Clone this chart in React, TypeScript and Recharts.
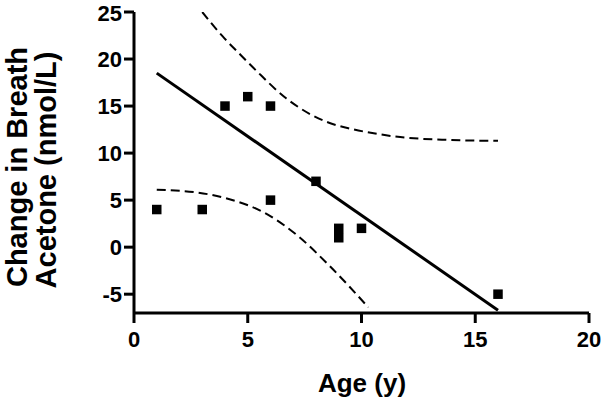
import { ComposedChart, Line, Scatter, XAxis, YAxis } from 'recharts'

// measured points (age in years, change in nmol/L)
const ages = [1, 3, 4, 5, 6, 6, 8, 9, 9, 10, 16]
const changes = [4, 4, 15, 16, 15, 5, 7, 2, 1, 2, -5]

// regression line end points
const fitX = [1, 16]
const fitY = [18.5, -6.7]

// dashed confidence bands
const upperX = [3.0, 3.9, 4.7, 5.4, 6.7, 8.6, 9.5, 10.8, 11.7, 13.9, 16.0]
const upperY = [25.0, 22.4, 20.4, 18.7, 15.8, 13.2, 12.6, 12.0, 11.7, 11.4, 11.3]
const lowerX = [1.0, 2.8, 4.2, 5.7, 7.2, 8.6, 10.3]
const lowerY = [6.1, 5.8, 5.1, 3.7, 1.2, -2.0, -6.4]

const xTicks = [0, 5, 10, 15, 20]
const yTicks = [-5, 0, 5, 10, 15, 20, 25]

const zip = (xs: number[], ys: number[]) => xs.map((x, i) => ({ x, y: ys[i] }))

const points = zip(ages, changes)
const fit = zip(fitX, fitY)
const upper = zip(upperX, upperY)
const lower = zip(lowerX, lowerY)

const font = '"Liberation Sans", Arial, Helvetica, sans-serif'
const tickStyle = { fill: '#000', fontSize: 22, fontWeight: 'bold' as const, fontFamily: font }

const Square = (props: any) => {
  const { cx, cy } = props
  const s = 9.5
  return <rect x={cx - s / 2} y={cy - s / 2} width={s} height={s} fill="#000" />
}

const YTitle = () => (
  <g fontFamily={font} fontWeight="bold" fontSize={29} fill="#000">
    <text x={27} y={167} transform="rotate(-90 27 167)" textAnchor="middle">
      Change in Breath
    </text>
    <text x={56} y={170} transform="rotate(-90 56 170)" textAnchor="middle">
      Acetone (nmol/L)
    </text>
  </g>
)

const XTitle = () => (
  <text x={362} y={392} textAnchor="middle" fontFamily={font} fontWeight="bold" fontSize={26} fill="#000">
    Age (y)
  </text>
)

export default function App() {
  return (
    <div style={{ position: 'absolute', left: 0, top: 0, background: '#fff' }}>
      <ComposedChart width={603} height={403} margin={{ top: 12, right: 14, bottom: 30, left: 74 }}>
        <XAxis
          type="number"
          dataKey="x"
          domain={[0, 20]}
          ticks={xTicks}
          height={60}
          axisLine={{ stroke: '#000', strokeWidth: 3 }}
          tickLine={{ stroke: '#000', strokeWidth: 3 }}
          tickSize={10}
          tickMargin={8}
          tick={tickStyle}
          label={{ content: () => <XTitle /> }}
        />
        <YAxis
          type="number"
          domain={[-7, 25]}
          ticks={yTicks}
          width={60}
          allowDataOverflow
          axisLine={{ stroke: '#000', strokeWidth: 3 }}
          tickLine={{ stroke: '#000', strokeWidth: 3 }}
          tickSize={10}
          tickMargin={2}
          tick={tickStyle}
          label={{ content: () => <YTitle /> }}
        />
        <Line
          data={upper}
          dataKey="y"
          type="monotone"
          stroke="#000"
          strokeWidth={2}
          strokeDasharray="9 5"
          dot={false}
          activeDot={false}
          isAnimationActive={false}
        />
        <Line
          data={lower}
          dataKey="y"
          type="monotone"
          stroke="#000"
          strokeWidth={2}
          strokeDasharray="9 5"
          dot={false}
          activeDot={false}
          isAnimationActive={false}
        />
        <Line
          data={fit}
          dataKey="y"
          type="linear"
          stroke="#000"
          strokeWidth={3}
          dot={false}
          activeDot={false}
          isAnimationActive={false}
        />
        <Scatter data={points} dataKey="y" shape={Square} isAnimationActive={false} />
      </ComposedChart>
    </div>
  )
}
